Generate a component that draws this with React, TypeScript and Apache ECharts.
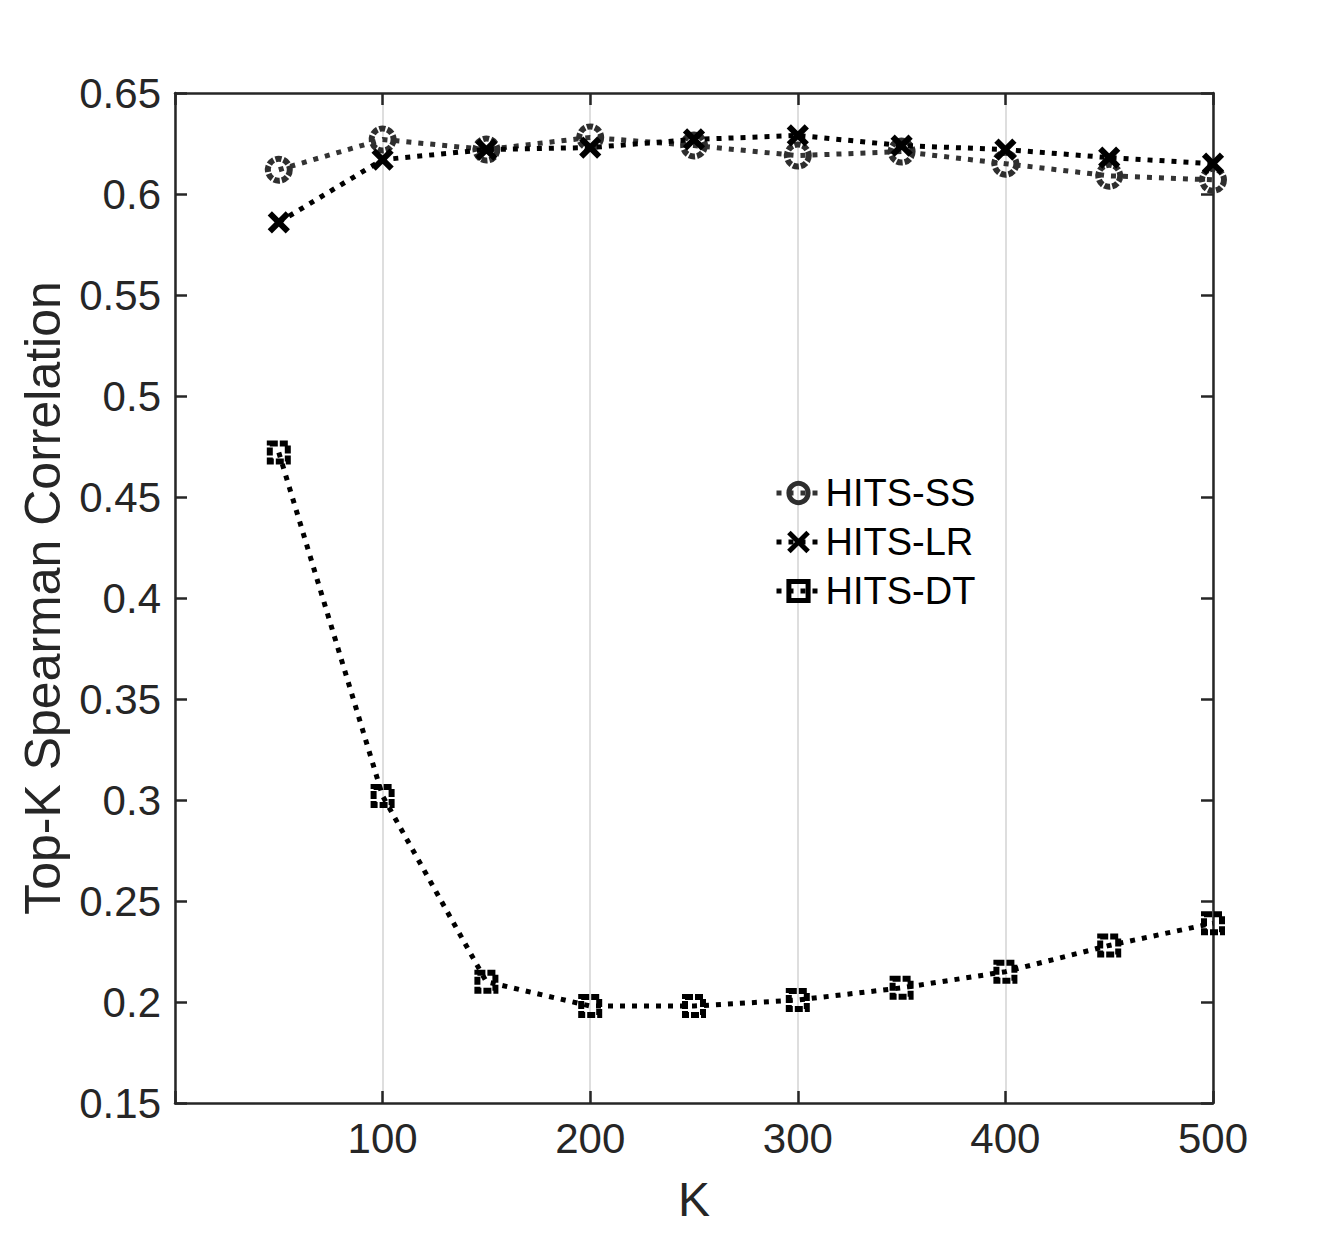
import React, { useEffect, useRef } from "react";
import * as echarts from "echarts";

// Top-K sizes on the horizontal axis
const kValues = [50, 100, 150, 200, 250, 300, 350, 400, 450, 500];

// Spearman correlation for each method
const hitsSS = [0.612, 0.627, 0.622, 0.628, 0.624, 0.619, 0.621, 0.615, 0.609, 0.607];
const hitsLR = [0.586, 0.617, 0.622, 0.623, 0.627, 0.629, 0.624, 0.622, 0.618, 0.615];
const hitsDT = [0.472, 0.302, 0.21, 0.198, 0.198, 0.201, 0.207, 0.215, 0.228, 0.239];

const seriesNames = ["HITS-SS", "HITS-LR", "HITS-DT"];
const xTitle = "K";
const yTitle = "Top-K Spearman Correlation";

const FONT = "'Liberation Sans', Arial, Helvetica, sans-serif";
const AXIS_COLOR = "#262626";
const DOT: number[] = [5, 7];
const CROSS = "path://M0,0 L10,10 M10,0 L0,10";

const pairs = (ys: number[]) => kValues.map((k, i) => [k, ys[i]]);

// box outline with ticks pointing into the plot on all four sides
const innerTick = { show: true, inside: true, length: 12, lineStyle: { color: AXIS_COLOR, width: 2.5 } };
const axisLine = { show: true, onZero: false, lineStyle: { color: AXIS_COLOR, width: 2.5 } };

export default function App() {
  const ref = useRef<HTMLDivElement>(null);

  useEffect(() => {
    if (!ref.current) return;
    const chart = echarts.init(ref.current, undefined, { renderer: "svg" });

    const boxAxis = {
      axisLine,
      axisTick: innerTick,
      axisLabel: { show: false },
      splitLine: { show: false },
    };

    chart.setOption({
      animation: false,
      backgroundColor: "#ffffff",
      textStyle: { fontFamily: FONT },
      grid: { left: 175, right: 127, top: 93, bottom: 135, containLabel: false },
      xAxis: [
        {
          type: "value",
          position: "bottom",
          min: 0,
          max: 500,
          interval: 100,
          name: xTitle,
          nameLocation: "middle",
          nameGap: 72,
          nameTextStyle: { fontFamily: FONT, fontSize: 48, color: AXIS_COLOR },
          axisLine,
          axisTick: innerTick,
          axisLabel: {
            fontFamily: FONT,
            fontSize: 42,
            color: AXIS_COLOR,
            margin: 14,
            formatter: (v: number) => (v === 0 ? "" : String(v)),
          },
          splitLine: { show: true, lineStyle: { color: "#dedede", width: 2 } },
        },
        { type: "value", position: "top", min: 0, max: 500, interval: 100, ...boxAxis },
      ],
      yAxis: [
        {
          type: "value",
          position: "left",
          min: 0.15,
          max: 0.65,
          interval: 0.05,
          name: yTitle,
          nameLocation: "middle",
          nameGap: 107,
          nameRotate: 90,
          nameTextStyle: { fontFamily: FONT, fontSize: 50, color: AXIS_COLOR },
          axisLine,
          axisTick: innerTick,
          axisLabel: {
            fontFamily: FONT,
            fontSize: 42,
            color: AXIS_COLOR,
            margin: 14,
            formatter: (v: number) => String(parseFloat(v.toFixed(2))),
          },
          splitLine: { show: false },
        },
        { type: "value", position: "right", min: 0.15, max: 0.65, interval: 0.05, ...boxAxis },
      ],
      legend: {
        orient: "vertical",
        left: 769,
        top: 468,
        itemWidth: 44,
        itemHeight: 24,
        itemGap: 9,
        itemStyle: { borderWidth: 5 },
        lineStyle: { width: 5 },
        textStyle: { fontFamily: FONT, fontSize: 38, color: "#000", lineHeight: 40 },
        data: seriesNames,
      },
      series: [
        {
          name: seriesNames[0],
          type: "line",
          data: pairs(hitsSS),
          symbol: "circle",
          symbolSize: 22,
          lineStyle: { color: "#333333", width: 5, type: DOT },
          itemStyle: { color: "rgba(0,0,0,0)", borderColor: "#2e2e2e", borderWidth: 6, borderType: [6, 2] },
          z: 3,
        },
        {
          name: seriesNames[1],
          type: "line",
          data: pairs(hitsLR),
          symbol: CROSS,
          symbolSize: 18,
          lineStyle: { color: "#000000", width: 5, type: DOT },
          itemStyle: { color: "none", borderColor: "#000000", borderWidth: 6 },
          z: 4,
        },
        {
          name: seriesNames[2],
          type: "line",
          data: pairs(hitsDT),
          symbol: "rect",
          symbolSize: 18,
          lineStyle: { color: "#000000", width: 5, type: DOT },
          itemStyle: { color: "rgba(0,0,0,0)", borderColor: "#000000", borderWidth: 6, borderType: [8, 2] },
          z: 3,
        },
      ],
    });

    return () => chart.dispose();
  }, []);

  return (
    <div
      ref={ref}
      style={{ position: "fixed", left: 0, top: 0, width: 1340, height: 1238, background: "#fff" }}
    />
  );
}
